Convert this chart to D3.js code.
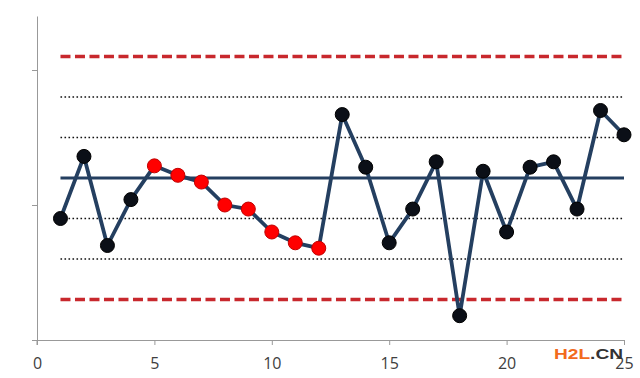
<!DOCTYPE html>
<html>
<head>
<meta charset="utf-8">
<script src="https://cdn.jsdelivr.net/npm/d3@7"></script>
<style>
  body { margin: 0; background: #fff; }
  .axis path, .axis line { stroke: #999; }
</style>
</head>
<body>
<div id="chart"></div>
<script>
// sample number and measured value
var samples = [1, 2, 3, 4, 5, 6, 7, 8, 9, 10, 11, 12, 13, 14, 15, 16, 17, 18, 19, 20, 21, 22, 23, 24, 25];
var values = [9.0, 13.6, 7.0, 10.4, 12.9, 12.2, 11.7, 10.0, 9.7, 8.0, 7.2, 6.8, 16.7, 12.8, 7.2, 9.7, 13.2, 1.8, 12.5, 8.0, 12.8, 13.2, 9.7, 17.0, 15.2];
// points flagged as a trend (drawn red)
var flagged = [5, 6, 7, 8, 9, 10, 11, 12];
// control limits
var centerLine = 12;
var controlLimits = [3, 21];
var sigmaLines = [6, 9, 15, 18];
var xTicks = [0, 5, 10, 15, 20, 25];
var yTicks = [0, 10, 20];

var width = 640, height = 378;

var svg = d3.select("#chart").append("svg")
    .attr("width", width)
    .attr("height", height);

var x = d3.scaleLinear().domain([0, 25]).range([37, 624]);
var y = d3.scaleLinear().domain([0, 24]).range([340, 16]);

// Axes
var xAxisG = svg.append("g")
    .attr("class", "axis")
    .attr("transform", "translate(0," + y(0) + ")")
    .call(d3.axisBottom(x).tickValues(xTicks).tickSize(5).tickSizeOuter(0).tickPadding(13));
xAxisG.selectAll("text")
    .attr("fill", "#404040")
    .style("font-family", "'Open Sans', 'Liberation Sans', sans-serif")
    .style("font-size", "16px");

svg.append("g")
    .attr("class", "axis")
    .attr("transform", "translate(" + x(0) + ",0)")
    .call(d3.axisLeft(y).tickValues(yTicks).tickFormat("").tickSize(5).tickSizeOuter(0));

// y axis sticks a little below the x axis
svg.append("line")
    .attr("x1", x(0)).attr("x2", x(0))
    .attr("y1", y(0)).attr("y2", y(0) + 5)
    .style("stroke", "#999");

// Sigma lines (dotted)
svg.append("g")
    .selectAll("line")
    .data(sigmaLines)
    .enter()
    .append("line")
        .attr("x1", x(1)).attr("x2", x(25))
        .attr("y1", function(d) { return y(d); })
        .attr("y2", function(d) { return y(d); })
        .style("stroke", "#111")
        .style("stroke-width", 1.6)
        .style("stroke-dasharray", "1.6,2.4");

// Control limits (red dashed)
svg.append("g")
    .selectAll("line")
    .data(controlLimits)
    .enter()
    .append("line")
        .attr("x1", x(1)).attr("x2", x(25))
        .attr("y1", function(d) { return y(d); })
        .attr("y2", function(d) { return y(d); })
        .style("stroke", "#c8282d")
        .style("stroke-width", 3.5)
        .style("stroke-dasharray", "10,4.5");

// Center line
svg.append("line")
    .attr("x1", x(1)).attr("x2", x(25))
    .attr("y1", y(centerLine)).attr("y2", y(centerLine))
    .style("stroke", "#243f60")
    .style("stroke-width", 3.2);

var data = samples.map(function(s, i) { return {n: s, v: values[i]}; });

var line = d3.line()
    .x(function(d) { return x(d.n); })
    .y(function(d) { return y(d.v); });

svg.append("path")
    .datum(data)
    .style("fill", "none")
    .style("stroke", "#243f60")
    .style("stroke-width", 3.8)
    .style("stroke-linejoin", "round")
    .attr("d", line);

svg.append("g")
    .selectAll("circle")
    .data(data)
    .enter()
    .append("circle")
        .attr("cx", function(d) { return x(d.n); })
        .attr("cy", function(d) { return y(d.v); })
        .attr("r", 7)
        .attr("fill", function(d) { return flagged.indexOf(d.n) >= 0 ? "#ff0000" : "#0b0f17"; })
        .attr("stroke", function(d) { return flagged.indexOf(d.n) >= 0 ? "#c00000" : "#000"; })
        .attr("stroke-width", 1);

// watermark
var wm = svg.append("text")
    .attr("x", 554)
    .attr("y", 359)
    .attr("textLength", 69)
    .attr("lengthAdjust", "spacingAndGlyphs")
    .style("font-family", "'Liberation Sans', Arial, sans-serif")
    .style("font-weight", "bold")
    .style("font-size", "14px");
wm.append("tspan").attr("fill", "#f26b1d").text("H2L");
wm.append("tspan").attr("fill", "#333").text(".CN");
</script>
</body>
</html>
